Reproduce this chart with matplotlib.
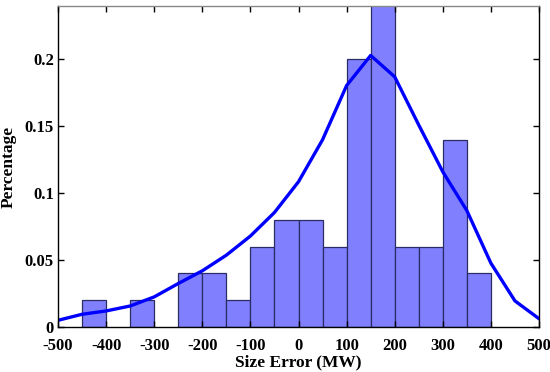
import matplotlib.pyplot as plt
import numpy as np

plt.rcParams['font.family'] = 'Liberation Serif'
plt.rcParams['font.weight'] = 'bold'
plt.rcParams['axes.unicode_minus'] = False

# histogram bins (left edges, width 50 MW) and bar heights
bin_left = [-450, -400, -350, -300, -250, -200, -150, -100, -50, 0, 50, 100, 150, 200, 250, 300, 350]
bar_h = [0.02, 0, 0.02, 0, 0.04, 0.04, 0.02, 0.06, 0.08, 0.08, 0.06, 0.20, 0.26, 0.06, 0.06, 0.14, 0.04]

# fitted density curve
fit_x = [-500, -450, -400, -350, -300, -250, -200, -150, -100, -50, 0, 50, 100, 150, 200, 250, 300, 350, 400, 450, 500]
fit_y = [0.005, 0.0095, 0.012, 0.0157, 0.0225, 0.0325, 0.042, 0.0537, 0.068, 0.0856, 0.1086, 0.14,
         0.1805, 0.203, 0.187, 0.151, 0.116, 0.087, 0.0477, 0.0195, 0.0062]

fig = plt.figure(figsize=(5.5, 3.72), dpi=100)
ax = fig.add_axes([0.1055, 0.121, 0.8745, 0.863])

nz = [i for i, h in enumerate(bar_h) if h > 0]
ax.bar([bin_left[i] for i in nz], [bar_h[i] for i in nz], width=50, align='edge',
       color='#8080ff', edgecolor='#2b2b66', linewidth=0.9)
ax.plot(fit_x, fit_y, color='#0000ff', linewidth=2.4)

ax.set_xlim(-500, 500)
ax.set_ylim(0, 0.24)
ax.set_xticks(np.arange(-500, 501, 100))
ax.set_yticks([0, 0.05, 0.1, 0.15, 0.2])
ax.set_yticklabels(['0', '0.05', '0.1', '0.15', '0.2'])
ax.tick_params(direction='in', top=True, right=True, labelsize=12, length=4, width=1)
ax.tick_params(axis='x', pad=8)
ax.tick_params(axis='y', pad=3)
for lab in ax.get_xticklabels() + ax.get_yticklabels():
    lab.set_fontweight('bold')
for s in ax.spines.values():
    s.set_linewidth(1)
ax.spines['top'].set_color('#888888')

ax.set_xlabel('Size Error (MW)', fontsize=12.5, fontweight='bold', labelpad=0.5)
ax.set_ylabel('Percentage', fontsize=12.5, fontweight='bold', labelpad=6)

fig.savefig('out.png', dpi=100)
